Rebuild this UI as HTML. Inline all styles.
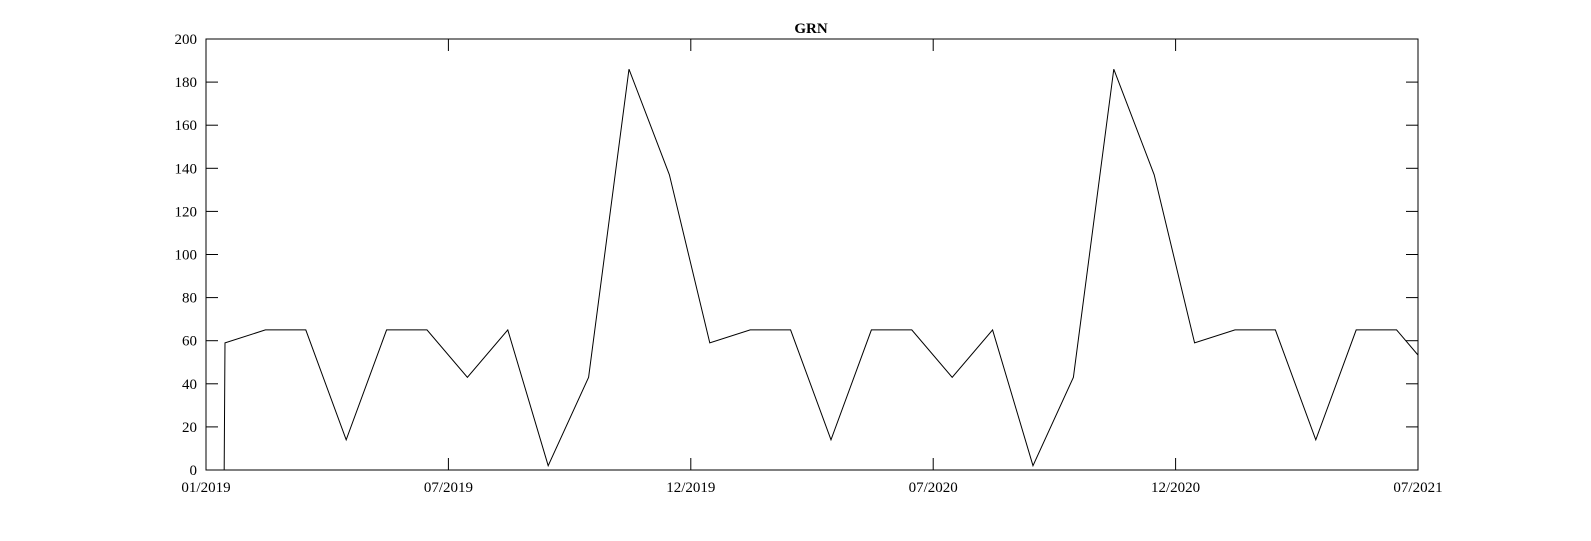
<!DOCTYPE html>
<html><head><meta charset="utf-8"><style>
body{margin:0;background:#fff;}
svg text{font-family:"Liberation Serif",serif;font-size:15px;fill:#000;}
</style></head><body>
<svg width="1591" height="536" id="c">
<text x="811" y="33" text-anchor="middle" style="font-weight:bold">GRN</text>
<rect x="206" y="39" width="1212" height="431" fill="none" stroke="#000" stroke-width="1"/>
<g id="ax"></g>
<defs><clipPath id="cp"><rect x="206" y="39" width="1212" height="431"/></clipPath></defs>
<polyline id="ln" fill="none" stroke="#000" stroke-width="1" clip-path="url(#cp)"/>
</svg>
<script>
const xTickMonths=[0,6,12,18,24,30];
const xTickLabels=["01/2019","07/2019","12/2019","07/2020","12/2020","07/2021"];
const yTicks=[0,20,40,60,80,100,120,140,160,180,200];
const months=[0,0.45,0.47,1.47,2.47,3.47,4.47,5.47,6.47,7.47,8.47,9.47,10.47,11.47,12.47,13.47,14.47,15.47,16.47,17.47,18.47,19.47,20.47,21.47,22.47,23.47,24.47,25.47,26.47,27.47,28.47,29.47,30.47];
const values=[0,0,59,65,65,14,65,65,43,65,2,43,186,137,59,65,65,14,65,65,43,65,2,43,186,137,59,65,65,14,65,65,43];
const L=206,R=1418,T=39,B=470;
const xs=m=>L+m*(R-L)/30;
const ys=v=>B-v*(B-T)/200;
const NS="http://www.w3.org/2000/svg";
const ax=document.getElementById('ax');
function mk(t,a){const e=document.createElementNS(NS,t);for(const k in a)e.setAttribute(k,a[k]);return e;}
yTicks.forEach(v=>{const y=ys(v);
 const t1=mk('line',{x1:L,x2:L+12,y1:y,y2:y,stroke:'#000'});
 
 
 ax.appendChild(t1);
 const t2=mk('line',{x1:R-12,x2:R,y1:y,y2:y,stroke:'#000'});
 
 
 ax.appendChild(t2);
 const tx=mk('text',{x:L-9,y:y+5,'text-anchor':'end'});tx.textContent=v;
 
 
 ax.appendChild(tx);
});
xTickMonths.forEach((m,i)=>{const x=xs(m);
 const t1=mk('line',{x1:x,x2:x,y1:B,y2:B-12,stroke:'#000'});
 
 
 ax.appendChild(t1);
 const t2=mk('line',{x1:x,x2:x,y1:T,y2:T+12,stroke:'#000'});
 
 
 ax.appendChild(t2);
 const tx=mk('text',{x:x,y:B+22,'text-anchor':'middle'});tx.textContent=xTickLabels[i];
 
 
 ax.appendChild(tx);
});
document.getElementById('ln').setAttribute('points',months.map((m,i)=>xs(m)+','+ys(values[i])).join(' '));
</script>
</body></html>
